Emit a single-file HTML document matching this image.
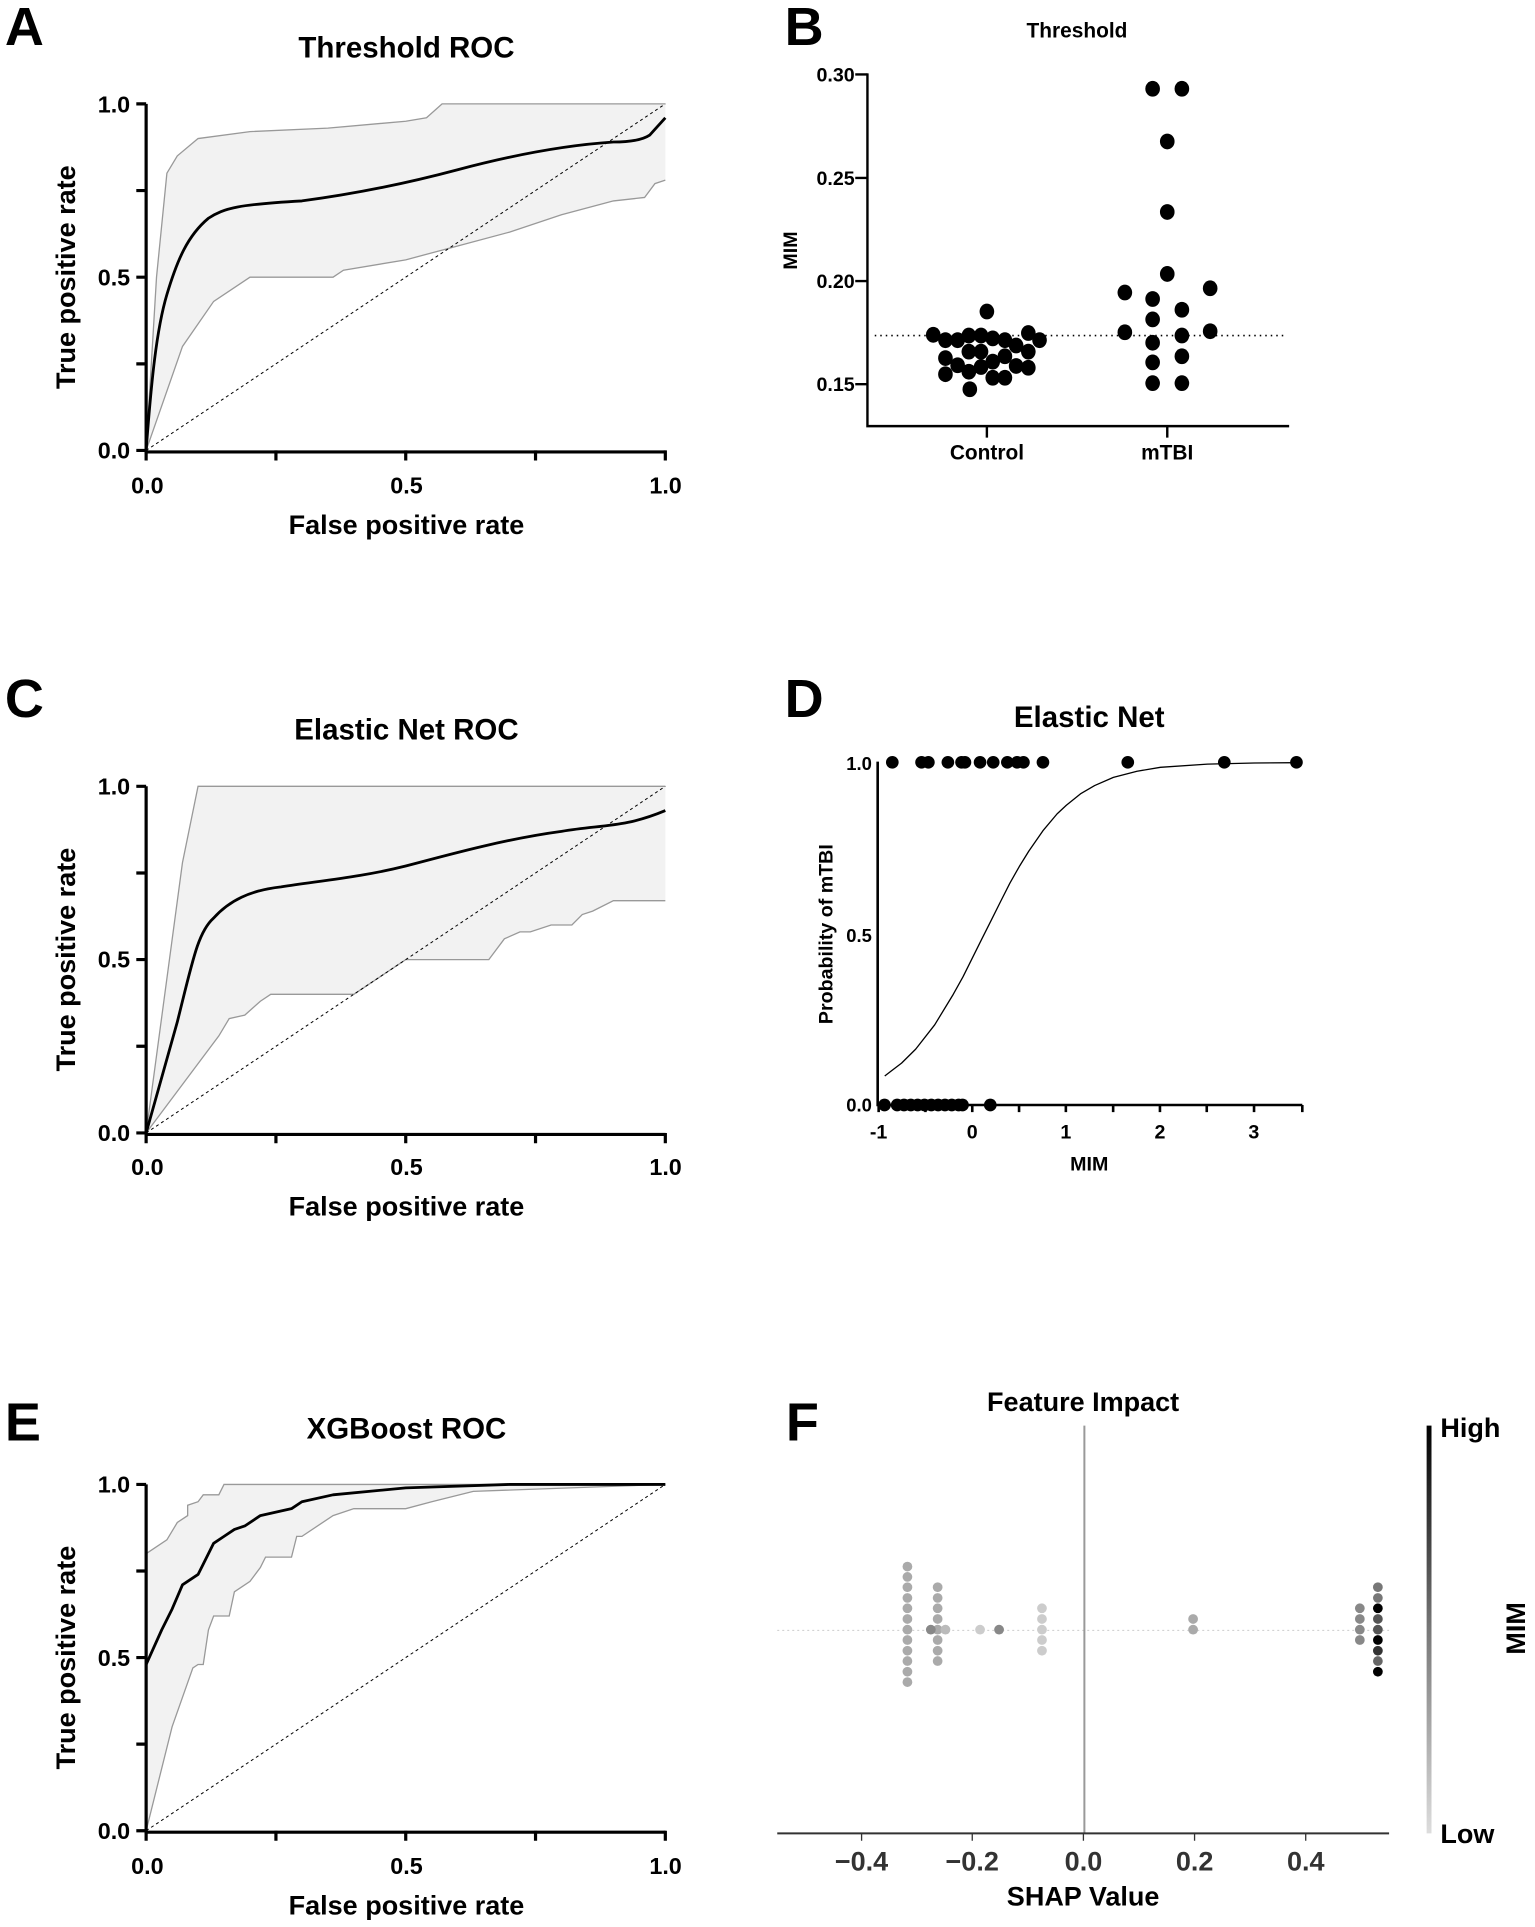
<!DOCTYPE html>
<html><head><meta charset="utf-8"><style>
html,body{margin:0;padding:0;background:#fff}
svg{display:block}
text{font-family:"Liberation Sans",Arial,sans-serif;font-weight:bold;fill:#000}
.ns{vector-effect:non-scaling-stroke}
</style></head><body>
<svg width="1535" height="1927" viewBox="0 0 1250 1569.2" preserveAspectRatio="none" xmlns="http://www.w3.org/2000/svg">
<rect width="1250" height="1569.2" fill="#fff"/>

<!-- ===== Panel A ===== -->
<text x="4" y="36.5" font-size="44">A</text>
<text x="331" y="46.7" font-size="24" text-anchor="middle">Threshold ROC</text>
<g transform="translate(119,366.8) scale(422.8,-282.2)">
  <path class="ns" d="M0,0 L0.02,0.5 L0.04,0.8 L0.06,0.85 L0.1,0.9 L0.2,0.92 L0.35,0.93 L0.5,0.95 L0.54,0.96 L0.57,1 L1,1 L1,0.78 L0.98,0.77 L0.96,0.73 L0.9,0.72 L0.8,0.68 L0.7,0.63 L0.6,0.59 L0.5,0.55 L0.38,0.52 L0.36,0.5 L0.2,0.5 L0.13,0.43 L0.07,0.3 Z" fill="#f2f2f2" stroke="none"/>
  <polyline class="ns" points="0,0 0.02,0.5 0.04,0.8 0.06,0.85 0.1,0.9 0.2,0.92 0.35,0.93 0.5,0.95 0.54,0.96 0.57,1 1,1" fill="none" stroke="#999" stroke-width="1.3"/>
  <polyline class="ns" points="0,0 0.07,0.3 0.13,0.43 0.2,0.5 0.36,0.5 0.38,0.52 0.5,0.55 0.6,0.59 0.7,0.63 0.8,0.68 0.9,0.72 0.96,0.73 0.98,0.77 1,0.78" fill="none" stroke="#999" stroke-width="1.3"/>
  <line class="ns" x1="0" y1="0" x2="1" y2="1" stroke="#000" stroke-width="1" stroke-dasharray="3,3"/>
  <path class="ns" d="M0,0 C0.01,0.2 0.02,0.35 0.04,0.45 C0.06,0.55 0.08,0.62 0.12,0.67 C0.15,0.7 0.18,0.71 0.3,0.72 C0.4,0.74 0.5,0.77 0.6,0.81 C0.7,0.85 0.8,0.88 0.9,0.89 C0.94,0.89 0.96,0.9 0.97,0.91 L1,0.96" fill="none" stroke="#000" stroke-width="2.8"/>
</g>
<g stroke="#000" stroke-width="2.6" fill="none">
  <path d="M119,84.6 V368 H542"/>
  <path d="M111,84.6 H119 M111,155.2 H119 M111,225.7 H119 M111,296.3 H119 M111,366.8 H119"/>
  <path d="M119,366.8 V375 M224.7,366.8 V375 M330.4,366.8 V375 M436.1,366.8 V375 M541.8,366.8 V375"/>
</g>
<g font-size="19" text-anchor="end"><text x="106" y="91.5">1.0</text><text x="106" y="232.5">0.5</text><text x="106" y="373.5">0.0</text></g>
<g font-size="19" text-anchor="middle"><text x="120" y="402">0.0</text><text x="331" y="402">0.5</text><text x="542" y="402">1.0</text></g>
<text x="331" y="435" font-size="22" text-anchor="middle">False positive rate</text>
<text transform="translate(61,225.7) rotate(-90)" font-size="22" text-anchor="middle">True positive rate</text>

<!-- ===== Panel C ===== -->
<text x="4" y="584" font-size="44">C</text>
<text x="331" y="602" font-size="24" text-anchor="middle">Elastic Net ROC</text>
<g transform="translate(119,922.6) scale(422.8,-282.3)">
  <path class="ns" d="M0,0 L0.07,0.78 L0.1,1 L1,1 L1,0.67 L0.9,0.67 L0.86,0.64 L0.84,0.63 L0.82,0.6 L0.78,0.6 L0.74,0.58 L0.72,0.58 L0.69,0.56 L0.66,0.5 L0.5,0.5 L0.4,0.4 L0.24,0.4 L0.22,0.38 L0.19,0.34 L0.16,0.33 L0.14,0.28 Z" fill="#f2f2f2"/>
  <polyline class="ns" points="0,0 0.07,0.78 0.1,1 1,1" fill="none" stroke="#999" stroke-width="1.3"/>
  <polyline class="ns" points="0,0 0.14,0.28 0.16,0.33 0.19,0.34 0.22,0.38 0.24,0.4 0.4,0.4 0.5,0.5 0.66,0.5 0.69,0.56 0.72,0.58 0.74,0.58 0.78,0.6 0.82,0.6 0.84,0.63 0.86,0.64 0.9,0.67 1,0.67" fill="none" stroke="#999" stroke-width="1.3"/>
  <line class="ns" x1="0" y1="0" x2="1" y2="1" stroke="#000" stroke-width="1" stroke-dasharray="3,3"/>
  <path class="ns" d="M0,0 L0.06,0.32 C0.09,0.5 0.1,0.58 0.13,0.62 C0.16,0.67 0.2,0.7 0.26,0.71 C0.35,0.73 0.42,0.74 0.5,0.77 C0.6,0.81 0.7,0.85 0.8,0.87 C0.88,0.89 0.92,0.88 1,0.93" fill="none" stroke="#000" stroke-width="2.8"/>
</g>
<g stroke="#000" stroke-width="2.6" fill="none">
  <path d="M119,640.3 V923.8 H542"/>
  <path d="M111,640.3 H119 M111,710.9 H119 M111,781.4 H119 M111,852 H119 M111,922.6 H119"/>
  <path d="M119,922.6 V931 M224.7,922.6 V931 M330.4,922.6 V931 M436.1,922.6 V931 M541.8,922.6 V931"/>
</g>
<g font-size="19" text-anchor="end"><text x="106" y="647">1.0</text><text x="106" y="788">0.5</text><text x="106" y="929">0.0</text></g>
<g font-size="19" text-anchor="middle"><text x="120" y="957">0.0</text><text x="331" y="957">0.5</text><text x="542" y="957">1.0</text></g>
<text x="331" y="990" font-size="22" text-anchor="middle">False positive rate</text>
<text transform="translate(61,781.4) rotate(-90)" font-size="22" text-anchor="middle">True positive rate</text>

<!-- ===== Panel E ===== -->
<text x="4" y="1173" font-size="44">E</text>
<text x="331" y="1171.5" font-size="24" text-anchor="middle">XGBoost ROC</text>
<g transform="translate(119,1490.8) scale(422.8,-282)">
  <path class="ns" d="M0,0.8 L0.04,0.84 L0.06,0.89 L0.08,0.91 L0.08,0.94 L0.1,0.95 L0.11,0.97 L0.14,0.97 L0.15,1 L1,1 L0.63,0.98 L0.55,0.95 L0.5,0.93 L0.4,0.93 L0.36,0.91 L0.3,0.85 L0.29,0.85 L0.28,0.79 L0.23,0.79 L0.22,0.76 L0.2,0.72 L0.17,0.69 L0.16,0.62 L0.13,0.62 L0.12,0.58 L0.11,0.48 L0.1,0.48 L0.09,0.47 L0.05,0.3 L0,0 Z" fill="#f2f2f2"/>
  <polyline class="ns" points="0,0.8 0.04,0.84 0.06,0.89 0.08,0.91 0.08,0.94 0.1,0.95 0.11,0.97 0.14,0.97 0.15,1 1,1" fill="none" stroke="#999" stroke-width="1.3"/>
  <polyline class="ns" points="0,0 0.05,0.3 0.09,0.47 0.1,0.48 0.11,0.48 0.12,0.58 0.13,0.62 0.16,0.62 0.17,0.69 0.2,0.72 0.22,0.76 0.23,0.79 0.28,0.79 0.29,0.85 0.3,0.85 0.36,0.91 0.4,0.93 0.5,0.93 0.55,0.95 0.63,0.98 1,1" fill="none" stroke="#999" stroke-width="1.3"/>
  <line class="ns" x1="0" y1="0" x2="1" y2="1" stroke="#000" stroke-width="1" stroke-dasharray="3,3"/>
  <polyline class="ns" points="0,0.48 0.03,0.58 0.05,0.64 0.07,0.71 0.1,0.74 0.11,0.77 0.13,0.83 0.15,0.85 0.17,0.87 0.19,0.88 0.22,0.91 0.28,0.93 0.3,0.95 0.36,0.97 0.5,0.99 0.7,1 1,1" fill="none" stroke="#000" stroke-width="2.8" stroke-linejoin="round"/>
</g>
<g stroke="#000" stroke-width="2.6" fill="none">
  <path d="M119,1208.8 V1492 H542"/>
  <path d="M111,1208.8 H119 M111,1279.3 H119 M111,1349.8 H119 M111,1420.3 H119 M111,1490.8 H119"/>
  <path d="M119,1490.8 V1499 M224.7,1490.8 V1499 M330.4,1490.8 V1499 M436.1,1490.8 V1499 M541.8,1490.8 V1499"/>
</g>
<g font-size="19" text-anchor="end"><text x="106" y="1215.5">1.0</text><text x="106" y="1356.5">0.5</text><text x="106" y="1497.5">0.0</text></g>
<g font-size="19" text-anchor="middle"><text x="120" y="1526">0.0</text><text x="331" y="1526">0.5</text><text x="542" y="1526">1.0</text></g>
<text x="331" y="1559" font-size="22" text-anchor="middle">False positive rate</text>
<text transform="translate(61,1349.8) rotate(-90)" font-size="22" text-anchor="middle">True positive rate</text>

<!-- ===== Panel B ===== -->
<text x="639" y="36.5" font-size="44">B</text>
<text x="877" y="30.6" font-size="17" text-anchor="middle">Threshold</text>
<g transform="translate(625,0) scale(0.397,0.2916)">
  <line class="ns" x1="220" y1="937" x2="1065" y2="937" stroke="#000" stroke-width="1.6" stroke-dasharray="1.5,4"/>
  <g class="ns" stroke="#000" stroke-width="2.4" fill="none">
    <path class="ns" d="M205,205 V1190 H1070"/>
    <path class="ns" d="M180,208 H205 M180,497 H205 M180,785 H205 M180,1073 H205"/>
    <path class="ns" d="M450,1190 V1222 M820,1190 V1222"/>
  </g>
  <g fill="#000">
    <ellipse cx="340" cy="935" rx="15" ry="22"/><ellipse cx="365" cy="950" rx="15" ry="22"/><ellipse cx="390" cy="950" rx="15" ry="22"/><ellipse cx="413" cy="937" rx="15" ry="22"/><ellipse cx="438" cy="937" rx="15" ry="22"/><ellipse cx="462" cy="945" rx="15" ry="22"/><ellipse cx="487" cy="950" rx="15" ry="22"/><ellipse cx="510" cy="965" rx="15" ry="22"/><ellipse cx="535" cy="930" rx="15" ry="22"/><ellipse cx="558" cy="950" rx="15" ry="22"/>
    <ellipse cx="365" cy="1000" rx="15" ry="22"/><ellipse cx="413" cy="982" rx="15" ry="22"/><ellipse cx="438" cy="982" rx="15" ry="22"/><ellipse cx="487" cy="995" rx="15" ry="22"/><ellipse cx="535" cy="982" rx="15" ry="22"/>
    <ellipse cx="390" cy="1020" rx="15" ry="22"/><ellipse cx="413" cy="1038" rx="15" ry="22"/><ellipse cx="438" cy="1025" rx="15" ry="22"/><ellipse cx="462" cy="1010" rx="15" ry="22"/><ellipse cx="510" cy="1022" rx="15" ry="22"/><ellipse cx="535" cy="1027" rx="15" ry="22"/>
    <ellipse cx="365" cy="1045" rx="15" ry="22"/><ellipse cx="462" cy="1055" rx="15" ry="22"/><ellipse cx="487" cy="1055" rx="15" ry="22"/><ellipse cx="415" cy="1087" rx="15" ry="22"/><ellipse cx="450" cy="870" rx="15" ry="22"/>
    <ellipse cx="790" cy="248" rx="15" ry="22"/><ellipse cx="850" cy="248" rx="15" ry="22"/><ellipse cx="820" cy="395" rx="15" ry="22"/><ellipse cx="820" cy="592" rx="15" ry="22"/><ellipse cx="820" cy="765" rx="15" ry="22"/><ellipse cx="733" cy="817" rx="15" ry="22"/><ellipse cx="908" cy="805" rx="15" ry="22"/><ellipse cx="790" cy="835" rx="15" ry="22"/><ellipse cx="850" cy="865" rx="15" ry="22"/><ellipse cx="790" cy="892" rx="15" ry="22"/><ellipse cx="733" cy="928" rx="15" ry="22"/><ellipse cx="908" cy="925" rx="15" ry="22"/><ellipse cx="850" cy="937" rx="15" ry="22"/><ellipse cx="790" cy="957" rx="15" ry="22"/><ellipse cx="850" cy="995" rx="15" ry="22"/><ellipse cx="790" cy="1012" rx="15" ry="22"/><ellipse cx="790" cy="1070" rx="15" ry="22"/><ellipse cx="850" cy="1070" rx="15" ry="22"/>
  </g>
</g>
<g font-size="16" text-anchor="end"><text x="696" y="66.5">0.30</text><text x="696" y="150.5">0.25</text><text x="696" y="234.5">0.20</text><text x="696" y="318.5">0.15</text></g>
<g font-size="17" text-anchor="middle"><text x="803.7" y="374">Control</text><text x="950.5" y="374">mTBI</text></g>
<text transform="translate(649,204) rotate(-90)" font-size="16" text-anchor="middle">MIM</text>

<!-- ===== Panel D ===== -->
<text x="639" y="584" font-size="44">D</text>
<text x="887" y="592" font-size="24" text-anchor="middle">Elastic Net</text>
<g transform="translate(625,553.7) scale(0.397,0.2916)">
  <polyline class="ns" points="240.5,1106 275,1070 304,1031 343,963 381,878 401,829 420,777 439,725 459,671 478,619 497,568 516.5,521 536,478 565,421 594,374 613,350 642,318 671,295 709.5,272 758,255 806,244 902.5,235 999,232 1086,231" fill="none" stroke="#000" stroke-width="1.3" stroke-linejoin="round"/>
  <g class="ns" stroke="#000" stroke-width="2.6" fill="none">
    <path class="ns" d="M226,228 V1187 H1097"/>
    <path class="ns" d="M228,1187 V1207 M324,1187 V1207 M420,1187 V1207 M516,1187 V1207 M612,1187 V1207 M709,1187 V1207 M805,1187 V1207 M901,1187 V1207 M998,1187 V1207 M1097,1187 V1207"/>
  </g>
  <g fill="#000">
    <ellipse cx="256" cy="230" rx="13" ry="17.7"/><ellipse cx="316" cy="230" rx="13" ry="17.7"/><ellipse cx="330" cy="230" rx="13" ry="17.7"/><ellipse cx="370" cy="230" rx="13" ry="17.7"/><ellipse cx="398" cy="230" rx="13" ry="17.7"/><ellipse cx="405" cy="230" rx="13" ry="17.7"/><ellipse cx="436" cy="230" rx="13" ry="17.7"/><ellipse cx="463" cy="230" rx="13" ry="17.7"/><ellipse cx="492" cy="230" rx="13" ry="17.7"/><ellipse cx="512" cy="230" rx="13" ry="17.7"/><ellipse cx="525" cy="230" rx="13" ry="17.7"/><ellipse cx="565" cy="230" rx="13" ry="17.7"/><ellipse cx="739" cy="230" rx="13" ry="17.7"/><ellipse cx="937" cy="230" rx="13" ry="17.7"/><ellipse cx="1085" cy="230" rx="13" ry="17.7"/>
    <ellipse cx="240" cy="1187" rx="13" ry="17.7"/><ellipse cx="266" cy="1187" rx="13" ry="17.7"/><ellipse cx="280" cy="1187" rx="13" ry="17.7"/><ellipse cx="294" cy="1187" rx="13" ry="17.7"/><ellipse cx="308" cy="1187" rx="13" ry="17.7"/><ellipse cx="322" cy="1187" rx="13" ry="17.7"/><ellipse cx="336" cy="1187" rx="13" ry="17.7"/><ellipse cx="350" cy="1187" rx="13" ry="17.7"/><ellipse cx="364" cy="1187" rx="13" ry="17.7"/><ellipse cx="378" cy="1187" rx="13" ry="17.7"/><ellipse cx="392" cy="1187" rx="13" ry="17.7"/><ellipse cx="400" cy="1187" rx="13" ry="17.7"/><ellipse cx="457" cy="1187" rx="13" ry="17.7"/>
  </g>
</g>
<g font-size="15" text-anchor="end"><text x="710" y="627">1.0</text><text x="710" y="767">0.5</text><text x="710" y="905">0.0</text></g>
<g font-size="16" text-anchor="middle"><text x="715.5" y="927">-1</text><text x="791.7" y="927">0</text><text x="868" y="927">1</text><text x="944.6" y="927">2</text><text x="1021" y="927">3</text></g>
<text x="887" y="953" font-size="16" text-anchor="middle">MIM</text>
<text transform="translate(678,760.7) rotate(-90)" font-size="16" text-anchor="middle">Probability of mTBI</text>

<!-- ===== Panel F ===== -->
<defs>
  <linearGradient id="cb" x1="0" y1="0" x2="0" y2="1">
    <stop offset="0" stop-color="#000"/><stop offset="0.5" stop-color="#777"/><stop offset="1" stop-color="#ddd"/>
  </linearGradient>
</defs>
<text x="640" y="1173" font-size="44">F</text>
<text x="882" y="1149" font-size="22" text-anchor="middle">Feature Impact</text>
<g transform="translate(625,1099.3) scale(0.397,0.3005)">
  <line class="ns" x1="20" y1="760" x2="1275" y2="760" stroke="#ccc" stroke-width="1" stroke-dasharray="2,3"/>
  <line class="ns" x1="650" y1="205" x2="650" y2="1310" stroke="#999" stroke-width="2"/>
  <line class="ns" x1="20" y1="1310" x2="1275" y2="1310" stroke="#333" stroke-width="2"/>
  <path class="ns" d="M193,1310 V1330 M420,1310 V1330 M648,1310 V1330 M876,1310 V1330 M1104,1310 V1330" stroke="#333" stroke-width="1.3"/>
  <rect x="1352" y="205" width="10" height="1105" fill="url(#cb)"/>
  <g>
    <g fill="#aaa">
      <ellipse cx="287" cy="587" rx="10" ry="13.2"/><ellipse cx="287" cy="615" rx="10" ry="13.2"/><ellipse cx="287" cy="643" rx="10" ry="13.2"/><ellipse cx="287" cy="672" rx="10" ry="13.2"/><ellipse cx="287" cy="700" rx="10" ry="13.2"/><ellipse cx="287" cy="729" rx="10" ry="13.2"/><ellipse cx="287" cy="758" rx="10" ry="13.2"/><ellipse cx="287" cy="786" rx="10" ry="13.2"/><ellipse cx="287" cy="815" rx="10" ry="13.2"/><ellipse cx="287" cy="843" rx="10" ry="13.2"/><ellipse cx="287" cy="872" rx="10" ry="13.2"/><ellipse cx="287" cy="900" rx="10" ry="13.2"/>
      <ellipse cx="349" cy="643" rx="10" ry="13.2"/><ellipse cx="349" cy="672" rx="10" ry="13.2"/><ellipse cx="349" cy="700" rx="10" ry="13.2"/><ellipse cx="349" cy="729" rx="10" ry="13.2"/><ellipse cx="349" cy="758" rx="10" ry="13.2"/><ellipse cx="349" cy="786" rx="10" ry="13.2"/><ellipse cx="349" cy="815" rx="10" ry="13.2"/><ellipse cx="349" cy="843" rx="10" ry="13.2"/>
      <ellipse cx="873" cy="729" rx="10" ry="13.2"/><ellipse cx="873" cy="758" rx="10" ry="13.2"/>
    </g>
    <ellipse cx="335" cy="758" rx="10" ry="13.2" fill="#888"/><ellipse cx="365" cy="758" rx="10" ry="13.2" fill="#bbb"/><ellipse cx="436" cy="758" rx="10" ry="13.2" fill="#ccc"/><ellipse cx="475" cy="758" rx="10" ry="13.2" fill="#888"/>
    <g fill="#ccc"><ellipse cx="563" cy="700" rx="10" ry="13.2"/><ellipse cx="563" cy="729" rx="10" ry="13.2"/><ellipse cx="563" cy="758" rx="10" ry="13.2"/><ellipse cx="563" cy="786" rx="10" ry="13.2"/><ellipse cx="563" cy="815" rx="10" ry="13.2"/></g>
    <g fill="#888"><ellipse cx="1215" cy="700" rx="10" ry="13.2"/><ellipse cx="1215" cy="729" rx="10" ry="13.2"/><ellipse cx="1215" cy="758" rx="10" ry="13.2"/><ellipse cx="1215" cy="786" rx="10" ry="13.2"/></g>
    <ellipse cx="1252" cy="643" rx="10" ry="13.2" fill="#777"/><ellipse cx="1252" cy="672" rx="10" ry="13.2" fill="#777"/><ellipse cx="1252" cy="700" rx="10" ry="13.2" fill="#000"/><ellipse cx="1252" cy="729" rx="10" ry="13.2" fill="#555"/><ellipse cx="1252" cy="758" rx="10" ry="13.2" fill="#555"/><ellipse cx="1252" cy="786" rx="10" ry="13.2" fill="#000"/><ellipse cx="1252" cy="815" rx="10" ry="13.2" fill="#333"/><ellipse cx="1252" cy="843" rx="10" ry="13.2" fill="#666"/><ellipse cx="1252" cy="872" rx="10" ry="13.2" fill="#000"/>
  </g>
</g>
<g font-size="22" text-anchor="middle"><text x="701.6" y="1523" style="fill:#333">−0.4</text><text x="791.7" y="1523" style="fill:#333">−0.2</text><text x="882.3" y="1523" style="fill:#333">0.0</text><text x="972.8" y="1523" style="fill:#333">0.2</text><text x="1063.3" y="1523" style="fill:#333">0.4</text></g>
<text x="882" y="1551.5" font-size="22" text-anchor="middle">SHAP Value</text>
<text x="1173" y="1170" font-size="22">High</text>
<text x="1173" y="1501" font-size="22">Low</text>
<text transform="translate(1242,1326) rotate(-90)" font-size="22" text-anchor="middle">MIM</text>
</svg>
</body></html>
